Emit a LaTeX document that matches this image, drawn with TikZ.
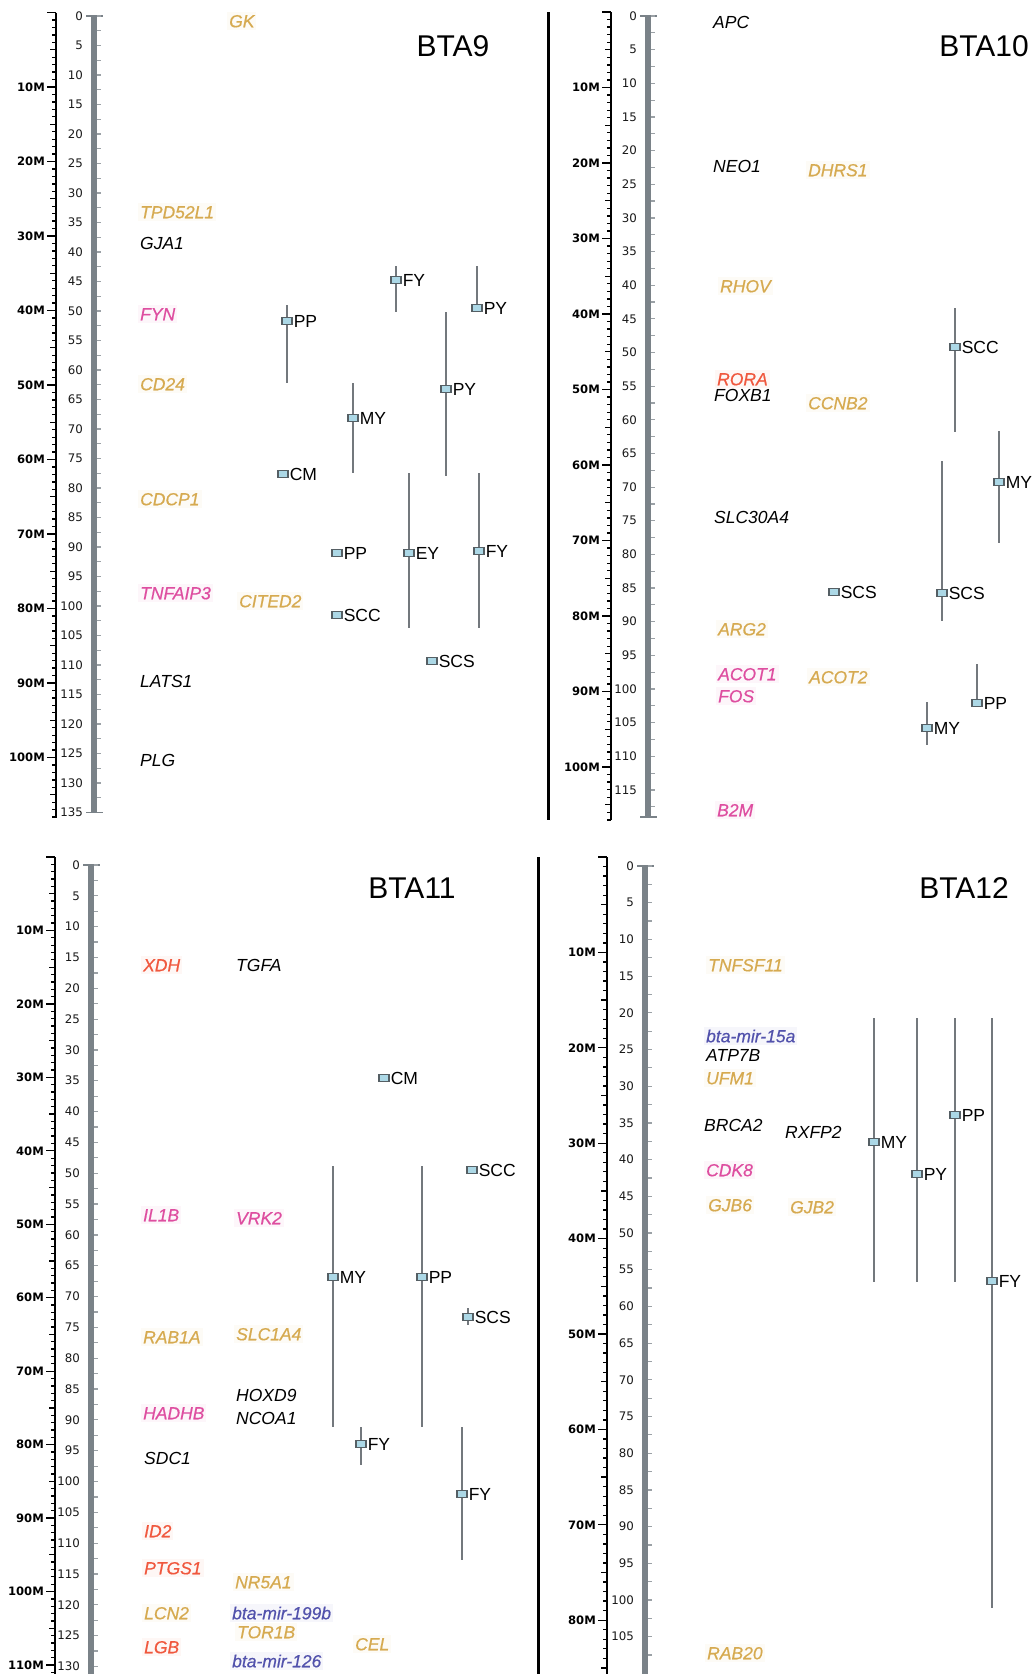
\documentclass[tikz,border=0pt]{standalone}
\usepackage{fontspec}
\setmainfont{Liberation Sans}
\newfontfamily\rulerfont{DejaVu Sans}
\newfontfamily\cgenefont[FakeBold=0.5]{Liberation Sans}
\definecolor{goldc}{RGB}{214,170,80}
\definecolor{pinkc}{RGB}{222,78,160}
\definecolor{redc}{RGB}{240,88,62}
\definecolor{bluec}{RGB}{82,82,172}
\definecolor{qfill}{RGB}{172,216,230}
\definecolor{qedge}{RGB}{85,95,100}
\definecolor{cic}{RGB}{115,120,125}
\definecolor{barc}{RGB}{122,130,136}
\tikzset{
 gene/.style={anchor=west, inner xsep=2pt, inner ysep=3pt, text height=12.5pt, text depth=0pt, font=\fontsize{17.5}{18}\selectfont\itshape},
 cgene/.style={gene, font=\cgenefont\fontsize{17.5}{18}\selectfont\itshape, fill=#1!5!white, text=#1},
 bgene/.style={gene, text=black},
 qbox/.style={draw=qedge, fill=qfill, line width=1.1pt, minimum width=10pt, minimum height=7pt, inner sep=0pt},
 qlab/.style={anchor=west, inner sep=1pt, text height=12.5pt, text depth=0pt, font=\fontsize{17.5}{18}\selectfont},
 ci/.style={draw=cic, line width=2pt},
 title/.style={font=\fontsize{30}{30}\selectfont, inner sep=0pt, text height=21.5pt, text depth=0pt},
 cmlab/.style={anchor=east, inner sep=0pt, text height=8.4pt, text depth=0pt, font=\rulerfont\fontsize{11.8}{12}\selectfont, text=black!90},
 mlab/.style={anchor=east, inner sep=0pt, text height=8.4pt, text depth=0pt, font=\rulerfont\bfseries\fontsize{11.6}{12}\selectfont},
}
% gene label: name, left x, centre y, style, text
\newcommand\genelab[5]{\node[#4] (#1) at (#2-2,#3) {#5};}
% QTL with interval: name, x, top, box y, bottom, label
\newcommand\qtlmark[6]{%
 \coordinate (#1t) at (#2,#3);
 \coordinate (#1b) at (#2,#5);
 \draw[ci] (#1t) -- (#1b);
 \node[qbox] (#1) at (#2,#4) {};
 \node[qlab] (#1l) at (#1.east) {#6};}
% QTL point: name, x, y, label
\newcommand\qtlpt[4]{%
 \node[qbox] (#1) at (#2,#3) {};
 \node[qlab] (#1l) at (#1.east) {#4};}
% physical ruler: name, x, y0, scale, nticks, ybottom, labmax
\newcommand\mruler[7]{%
 \coordinate (#1top) at (#2,#3);
 \coordinate (#1bot) at (#2,#6);
 \draw[line width=2pt] (#1top) -- (#1bot);
 \foreach \m in {0,...,#5} {
   \pgfmathsetmacro\tl{ifthenelse(mod(\m,10)==0,9,ifthenelse(mod(\m,5)==0,6.5,4))}
   \draw[line width=1.3pt] (#2,#3+#4*\m) -- ++(-\tl,0);
 }
 \foreach \m in {10,20,...,#7} {\node[mlab] (#1m\m) at (#2-11,#3+#4*\m) {\m M};}
}
% linkage bar: name, x, y0, scale, labmax, ybottom, last minor tick
\newcommand\chrom[7]{%
 \fill[barc] (#2-2.8,#3-1) rectangle (#2+2.8,#6);
 \draw[barc, line width=1.6pt] (#2-8,#3) -- (#2+9,#3);
 \foreach \c in {0,5,...,#5} {
   \node[cmlab] (#1c\c) at (#2-11,#3+#4*\c) {\c};
   \draw[barc!75, line width=1.2pt] (#2+2.8,#3+#4*\c) -- ++(4,0);
 }
 \foreach \c in {2.5,7.5,...,#7} {
   \draw[barc!75, line width=1.2pt] (#2+2.8,#3+#4*\c) -- ++(4,0);
 }
}
\begin{document}
\begin{tikzpicture}[x=1pt,y=-1pt]
\useasboundingbox (0,0) rectangle (1033,1674);
\fill[white] (0,0) rectangle (1033,1674);

% separators
\coordinate (s1t) at (548,12); \coordinate (s1b) at (548,820);
\coordinate (s2t) at (538,857); \coordinate (s2b) at (538,1674);
\draw[line width=3pt] (s1t) -- (s1b);
\draw[line width=3pt] (s2t) -- (s2b);

% ===== BTA9 =====
\mruler{r9}{56}{12.5}{7.45}{108}{818}{100}
\chrom{c9}{94}{16}{5.9}{135}{812.5}{132.5}
\draw[barc, line width=1.6pt] (86,812.5) -- (103,812.5);
\node[title] (t9) at (453,46) {BTA9};
\genelab{gGK}{229}{21}{cgene=goldc}{GK}
\genelab{gTPD}{140}{212}{cgene=goldc}{TPD52L1}
\genelab{gGJA}{140}{243}{bgene}{GJA1}
\genelab{gFYN}{140}{314}{cgene=pinkc}{FYN}
\genelab{gCD24}{140}{384}{cgene=goldc}{CD24}
\genelab{gCDCP}{140}{499}{cgene=goldc}{CDCP1}
\genelab{gTNF}{140}{593}{cgene=pinkc}{TNFAIP3}
\genelab{gCIT}{239}{601}{cgene=goldc}{CITED2}
\genelab{gLATS}{140}{681}{bgene}{LATS1}
\genelab{gPLG}{140}{760}{bgene}{PLG}
\qtlmark{a1}{287}{305}{321}{383}{PP}
\qtlmark{a2}{396}{266}{280}{312}{FY}
\qtlmark{a3}{477}{266}{308}{308}{PY}
\qtlmark{a4}{446}{312}{389}{476}{PY}
\qtlmark{a5}{353}{383}{418}{473}{MY}
\qtlpt{a6}{283}{474}{CM}
\qtlpt{a7}{337}{553}{PP}
\qtlmark{a8}{409}{473}{553}{628}{EY}
\qtlmark{a9}{479}{473}{551}{628}{FY}
\qtlpt{a10}{337}{615}{SCC}
\qtlpt{a11}{432}{661}{SCS}

% ===== BTA10 =====
\mruler{r10}{611}{12}{7.55}{107}{820}{100}
\chrom{c10}{648}{16}{6.73}{115}{817}{117.5}
\draw[barc, line width=1.6pt] (640,817) -- (657,817);
\node[title] (t10) at (984,46) {BTA10};
\genelab{gAPC}{713}{22}{bgene}{APC}
\genelab{gNEO}{713}{166}{bgene}{NEO1}
\genelab{gDHRS}{808}{170}{cgene=goldc}{DHRS1}
\genelab{gRHOV}{720}{286}{cgene=goldc}{RHOV}
\genelab{gRORA}{717}{379}{cgene=redc}{RORA}
\genelab{gFOXB}{714}{395}{bgene}{FOXB1}
\genelab{gCCNB}{808}{403}{cgene=goldc}{CCNB2}
\genelab{gSLC}{714}{517}{bgene}{SLC30A4}
\genelab{gARG}{718}{629}{cgene=goldc}{ARG2}
\genelab{gACOT1}{718}{674}{cgene=pinkc}{ACOT1}
\genelab{gACOT2}{809}{677}{cgene=goldc}{ACOT2}
\genelab{gFOS}{718}{696}{cgene=pinkc}{FOS}
\genelab{gB2M}{717}{810}{cgene=pinkc}{B2M}
\qtlmark{b1}{955}{308}{347}{432}{SCC}
\qtlmark{b2}{999}{431}{482}{543}{MY}
\qtlpt{b3}{834}{592}{SCS}
\qtlmark{b4}{942}{461}{593}{621}{SCS}
\qtlmark{b5}{977}{664}{703}{706}{PP}
\qtlmark{b6}{927}{702}{728}{745}{MY}

% ===== BTA11 =====
\mruler{r11}{55}{857}{7.345}{111}{1674}{110}
\chrom{c11}{91}{865}{6.165}{130}{1674}{132.5}
\node[title] (t11) at (412,888) {BTA11};
\genelab{gXDH}{143}{965}{cgene=redc}{XDH}
\genelab{gTGFA}{236}{965}{bgene}{TGFA}
\genelab{gIL1B}{143}{1215}{cgene=pinkc}{IL1B}
\genelab{gVRK}{236}{1218}{cgene=pinkc}{VRK2}
\genelab{gRAB1A}{143}{1337}{cgene=goldc}{RAB1A}
\genelab{gSLC1}{236}{1334}{cgene=goldc}{SLC1A4}
\genelab{gHOX}{236}{1395}{bgene}{HOXD9}
\genelab{gNCOA}{236}{1418}{bgene}{NCOA1}
\genelab{gHADHB}{143}{1413}{cgene=pinkc}{HADHB}
\genelab{gSDC}{144}{1458}{bgene}{SDC1}
\genelab{gID2}{144}{1531}{cgene=redc}{ID2}
\genelab{gPTGS}{144}{1568}{cgene=redc}{PTGS1}
\genelab{gNR5}{235}{1582}{cgene=goldc}{NR5A1}
\genelab{gLCN}{144}{1613}{cgene=goldc}{LCN2}
\genelab{gmir199}{232}{1613}{cgene=bluec}{bta-mir-199b}
\genelab{gTOR}{237}{1632}{cgene=goldc}{TOR1B}
\genelab{gCEL}{355}{1644}{cgene=goldc}{CEL}
\genelab{gLGB}{144}{1647}{cgene=redc}{LGB}
\genelab{gmir126}{232}{1661}{cgene=bluec}{bta-mir-126}
\qtlpt{c1}{384}{1078}{CM}
\qtlpt{c2}{472}{1170}{SCC}
\qtlmark{c3}{333}{1166}{1277}{1427}{MY}
\qtlmark{c4}{422}{1166}{1277}{1427}{PP}
\qtlmark{c5}{468}{1308}{1317}{1325}{SCS}
\qtlmark{c6}{361}{1427}{1444}{1465}{FY}
\qtlmark{c7}{462}{1427}{1494}{1560}{FY}

% ===== BTA12 =====
\mruler{r12}{607}{857}{9.54}{85}{1674}{80}
\chrom{c12}{645}{866}{7.34}{105}{1674}{107.5}
\node[title] (t12) at (964,888) {BTA12};
\genelab{gTNFSF}{708}{965}{cgene=goldc}{TNFSF11}
\genelab{gmir15}{706}{1036}{cgene=bluec}{bta-mir-15a}
\genelab{gATP}{706}{1055}{bgene}{ATP7B}
\genelab{gUFM}{706}{1078}{cgene=goldc}{UFM1}
\genelab{gBRCA}{704}{1125}{bgene}{BRCA2}
\genelab{gRXFP}{785}{1132}{bgene}{RXFP2}
\genelab{gCDK}{706}{1170}{cgene=pinkc}{CDK8}
\genelab{gGJB6}{708}{1205}{cgene=goldc}{GJB6}
\genelab{gGJB2}{790}{1207}{cgene=goldc}{GJB2}
\genelab{gRAB20}{707}{1653}{cgene=goldc}{RAB20}
\qtlmark{d1}{874}{1018}{1142}{1282}{MY}
\qtlmark{d2}{917}{1018}{1174}{1282}{PY}
\qtlmark{d3}{955}{1018}{1115}{1282}{PP}
\qtlmark{d4}{992}{1018}{1281}{1608}{FY}
\end{tikzpicture}
\end{document}
